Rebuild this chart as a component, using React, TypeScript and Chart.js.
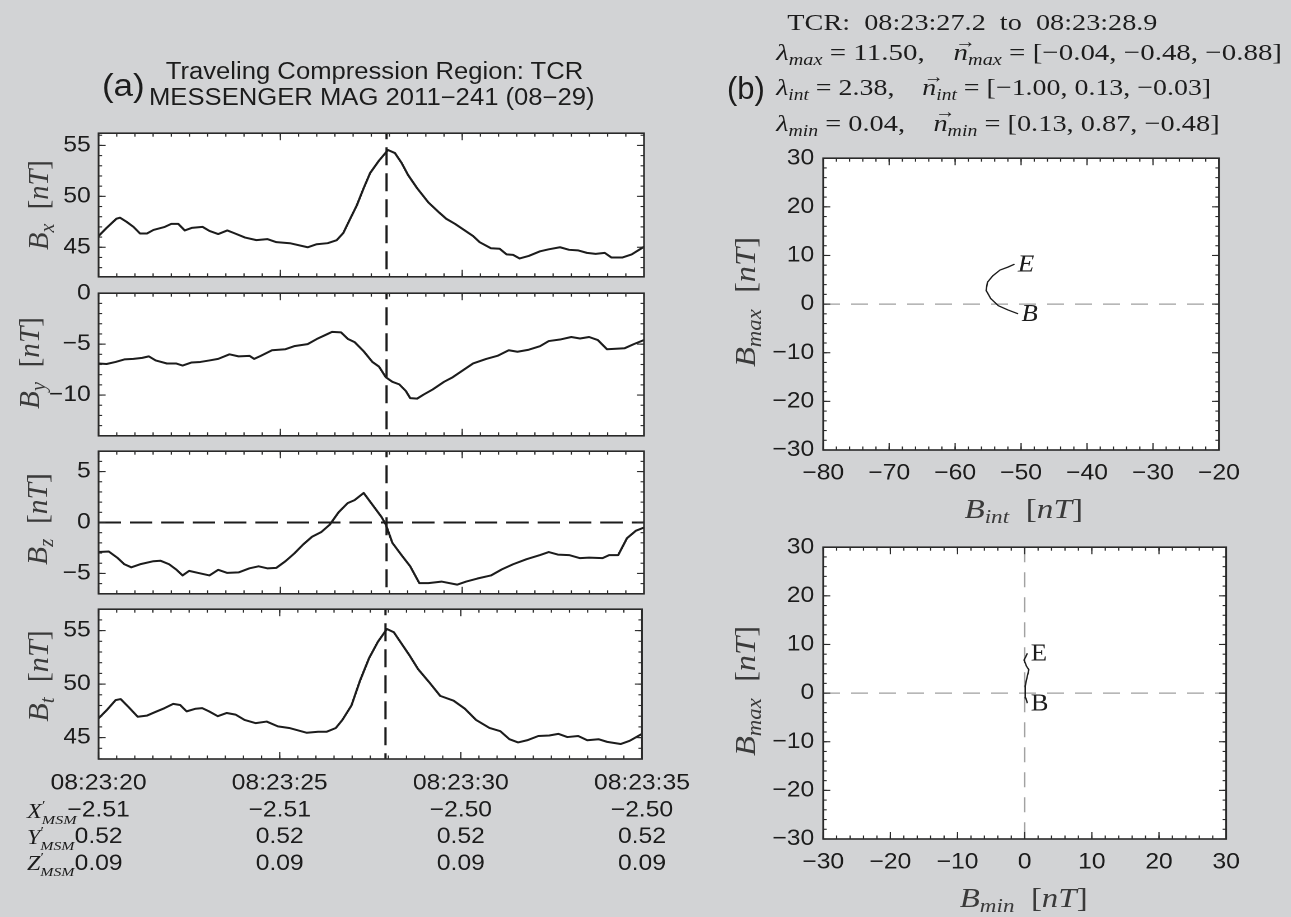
import React, { useEffect, useLayoutEffect, useRef, useState } from 'react';
import { Chart, registerables } from 'chart.js';

Chart.register(...registerables);

// ---------------- data ----------------
const tcrCenterSec = 7.92; // seconds after 08:23:20
const timeTickSec = [0, 5, 10, 15];
const timeTickLabels = ['08:23:20', '08:23:25', '08:23:30', '08:23:35'];
const xMsmValues = ['\u22122.51', '\u22122.51', '\u22122.50', '\u22122.50'];
const yMsmValues = ['0.52', '0.52', '0.52', '0.52'];
const zMsmValues = ['0.09', '0.09', '0.09', '0.09'];

const bxSec = [0, 0.22, 0.49, 0.59, 0.77, 0.96, 1.14, 1.33, 1.51, 1.82, 2.0, 2.19, 2.37, 2.56, 2.86, 3.05, 3.29, 3.54, 3.72, 4.03, 4.34, 4.64, 4.89, 5.26, 5.75, 6.0, 6.3, 6.55, 6.73, 6.92, 7.1, 7.29, 7.47, 7.71, 7.96, 8.15, 8.33, 8.51, 8.76, 9.07, 9.37, 9.56, 9.8, 10.05, 10.3, 10.48, 10.79, 11.03, 11.22, 11.4, 11.58, 11.83, 12.14, 12.38, 12.69, 12.94, 13.18, 13.43, 13.67, 13.92, 14.1, 14.41, 14.66, 15];
const bxNT = [46.1, 46.9, 47.8, 47.9, 47.5, 47.0, 46.35, 46.35, 46.7, 47.0, 47.3, 47.3, 46.65, 46.9, 47.0, 46.6, 46.3, 46.65, 46.4, 45.95, 45.7, 45.8, 45.5, 45.4, 45.0, 45.3, 45.4, 45.7, 46.4, 47.8, 49.1, 50.8, 52.3, 53.5, 54.55, 54.25, 53.3, 52.1, 50.8, 49.4, 48.4, 47.8, 47.3, 46.7, 46.1, 45.5, 44.9, 44.85, 44.3, 44.25, 43.9, 44.15, 44.6, 44.8, 45.0, 44.75, 44.7, 44.45, 44.35, 44.45, 44.0, 44.0, 44.3, 45.05];

const bySec = [0, 0.22, 0.47, 0.71, 0.96, 1.2, 1.38, 1.57, 1.88, 2.13, 2.31, 2.56, 2.8, 3.05, 3.29, 3.6, 3.85, 4.15, 4.28, 4.46, 4.77, 5.14, 5.38, 5.75, 6.0, 6.3, 6.42, 6.67, 6.86, 7.04, 7.29, 7.53, 7.71, 7.9, 8.08, 8.27, 8.45, 8.57, 8.76, 8.94, 9.19, 9.5, 9.74, 10.05, 10.3, 10.66, 10.97, 11.28, 11.52, 11.83, 12.14, 12.38, 12.69, 13.0, 13.24, 13.49, 13.73, 13.98, 14.23, 14.47, 14.72, 15];
const byNT = [-6.9, -6.95, -6.75, -6.5, -6.45, -6.35, -6.2, -6.6, -6.9, -6.9, -7.1, -6.8, -6.75, -6.6, -6.45, -6.0, -6.2, -6.15, -6.45, -6.15, -5.6, -5.5, -5.2, -5.0, -4.5, -4.0, -3.8, -3.85, -4.5, -4.8, -5.7, -6.75, -7.2, -8.25, -8.7, -8.95, -9.6, -10.3, -10.35, -9.95, -9.45, -8.7, -8.25, -7.5, -6.9, -6.45, -6.15, -5.6, -5.75, -5.55, -5.2, -4.7, -4.55, -4.3, -4.45, -4.3, -4.6, -5.5, -5.45, -5.4, -5.0, -4.6];

const bzSec = [0, 0.28, 0.53, 0.71, 0.9, 1.14, 1.51, 1.7, 1.94, 2.13, 2.31, 2.49, 2.74, 3.05, 3.29, 3.54, 3.85, 4.15, 4.4, 4.64, 4.89, 5.14, 5.38, 5.63, 5.87, 6.12, 6.36, 6.6, 6.85, 7.04, 7.29, 7.53, 7.78, 7.9, 8.08, 8.33, 8.57, 8.82, 9.07, 9.43, 9.86, 10.11, 10.42, 10.79, 11.09, 11.4, 11.77, 12.14, 12.38, 12.63, 12.94, 13.24, 13.49, 13.86, 14.04, 14.29, 14.53, 14.78, 15];
const bzNT = [-2.9, -2.85, -3.5, -4.1, -4.4, -4.1, -3.8, -3.75, -4.1, -4.6, -5.2, -4.75, -4.95, -5.2, -4.65, -4.95, -4.9, -4.5, -4.3, -4.5, -4.45, -3.8, -3.05, -2.15, -1.4, -0.95, -0.2, 1.0, 1.9, 2.2, 2.9, 1.75, 0.55, -0.2, -2.0, -3.2, -4.3, -5.95, -5.95, -5.8, -6.1, -5.8, -5.5, -5.2, -4.6, -4.1, -3.6, -3.2, -2.9, -3.15, -3.2, -3.5, -3.45, -3.5, -3.2, -3.2, -1.55, -0.8, -0.5];

const btSec = [0, 0.22, 0.47, 0.61, 0.83, 1.08, 1.33, 1.57, 1.82, 2.06, 2.25, 2.43, 2.68, 2.86, 3.05, 3.29, 3.54, 3.78, 4.03, 4.34, 4.64, 4.95, 5.26, 5.75, 6.06, 6.3, 6.55, 6.73, 6.98, 7.22, 7.47, 7.71, 7.96, 8.15, 8.33, 8.57, 8.82, 9.12, 9.43, 9.8, 10.11, 10.42, 10.79, 11.09, 11.34, 11.58, 11.83, 12.14, 12.44, 12.69, 12.94, 13.24, 13.49, 13.8, 14.04, 14.41, 14.66, 15];
const btNT = [46.8, 47.55, 48.5, 48.6, 47.85, 46.95, 47.05, 47.4, 47.75, 48.15, 48.05, 47.45, 47.7, 47.75, 47.45, 47.0, 47.3, 47.15, 46.65, 46.35, 46.5, 46.05, 45.9, 45.45, 45.55, 45.55, 45.9, 46.65, 48.0, 50.35, 52.45, 53.95, 55.15, 54.85, 53.95, 52.75, 51.4, 50.2, 48.9, 48.45, 47.7, 46.65, 45.9, 45.6, 44.85, 44.55, 44.75, 45.15, 45.2, 45.35, 45.05, 45.15, 44.75, 44.85, 44.6, 44.4, 44.7, 45.35];

const bxTicks = [45, 50, 55];
const byTicks = [-10, -5, 0];
const bzTicks = [-5, 0, 5];
const btTicks = [45, 50, 55];

// hodograms (minimum variance frame)
const hodo1Bint = [-50.45, -52.0, -53.45, -54.6, -55.3, -55.1, -54.3, -53.2, -52.0, -51.0];
const hodo1Bmax = [-2.0, -1.2, -0.33, 1.14, 2.8, 4.5, 5.8, 7.0, 7.6, 8.2];
const hodo2Bmin = [0.4, 0.17, 0.06, 0.1, 0.28, 0.62, 0.28, -0.1, 0.17, 0.4];
const hodo2Bmax = [-2.07, -1.0, 0.0, 1.47, 2.8, 4.8, 5.5, 6.8, 7.5, 8.2];
const hodo1XTicks = [-80, -70, -60, -50, -40, -30, -20];
const hodo2XTicks = [-30, -20, -10, 0, 10, 20, 30];
const hodoYTicks = [-30, -20, -10, 0, 10, 20, 30];

// ---------------- style ----------------
const K = 1.12; // horizontal stretch of the whole figure
const BG = '#d2d3d5';
const INK = '#1c1c1c';
const SANS = '"Liberation Sans", Arial, Helvetica, sans-serif';
const SERIF = '"Liberation Serif", "Times New Roman", "DejaVu Serif", serif';

const fmt = (v: number) => (v < 0 ? '\u2212' + Math.abs(v) : String(v));
const steps = (a: number, b: number, s: number) => {
  const out: number[] = [];
  for (let v = a; v <= b + 1e-9; v += s) out.push(Math.round(v * 1000) / 1000);
  return out;
};
const pts = (xs: number[], ys: number[]) => xs.map((x, i) => ({ x, y: ys[i] }));

const framePlugin = {
  id: 'frame',
  beforeDraw(chart: any) {
    const a = chart.chartArea;
    const c = chart.ctx;
    c.save();
    c.fillStyle = '#ffffff';
    c.fillRect(a.left, a.top, a.right - a.left, a.bottom - a.top);
    c.restore();
  },
  afterDraw(chart: any, _args: any, o: any) {
    const { ctx, chartArea: a, scales } = chart;
    const xs = scales.x;
    const ys = scales.y;
    ctx.save();
    ctx.strokeStyle = '#2a2a2a';
    ctx.lineWidth = 1.1;
    const seg = (x1: number, y1: number, x2: number, y2: number) => {
      ctx.beginPath();
      ctx.moveTo(x1, y1);
      ctx.lineTo(x2, y2);
      ctx.stroke();
    };
    const xt = (vals: number[], len: number) =>
      vals.forEach((v) => {
        const p = xs.getPixelForValue(v);
        seg(p, a.bottom, p, a.bottom - len);
        seg(p, a.top, p, a.top + len);
      });
    const yt = (vals: number[], len: number) =>
      vals.forEach((v) => {
        const p = ys.getPixelForValue(v);
        seg(a.left, p, a.left + len, p);
        seg(a.right, p, a.right - len, p);
      });
    xt(o.xMinor, o.minorLen);
    xt(o.xMajor, o.majorLen);
    yt(o.yMinor, o.minorLen * 0.9);
    yt(o.yMajor, o.majorLen * 0.9);
    ctx.lineWidth = 1.6;
    ctx.strokeRect(a.left, a.top, a.right - a.left, a.bottom - a.top);
    ctx.restore();
  },
};

const endLabelPlugin = {
  id: 'endLabels',
  afterDatasetsDraw(chart: any, _args: any, o: any) {
    if (!o || !o.show) return;
    const data = chart.data.datasets[0].data;
    const first = data[0];
    const last = data[data.length - 1];
    const xs = chart.scales.x;
    const ys = chart.scales.y;
    const ctx = chart.ctx;
    ctx.save();
    ctx.font = o.font;
    ctx.fillStyle = INK;
    ctx.textAlign = 'left';
    ctx.textBaseline = 'middle';
    ctx.fillText(o.startText, xs.getPixelForValue(first.x) + 3, ys.getPixelForValue(first.y) + 1);
    ctx.fillText(o.endText, xs.getPixelForValue(last.x) + 3, ys.getPixelForValue(last.y) + 1);
    ctx.restore();
  },
};

interface Spec {
  left: number; top: number; w: number; h: number;
  padTop: number; padRight: number; padBottom: number;
  yAxisW: number; xAxisH: number; showX: boolean;
  xMin: number; xMax: number; yMin: number; yMax: number;
  xTicks: number[]; yTicks: number[]; xMinor: number[]; yMinor: number[];
  majorLen: number; minorLen: number;
  xLabel: (v: number, i: number) => any;
  xPad: number; yPad: number; lineHeight: number;
  datasets: any[]; endLabels?: any;
}

function makeConfig(s: Spec): any {
  return {
    type: 'line',
    data: { datasets: s.datasets },
    options: {
      animation: false,
      responsive: false,
      devicePixelRatio: 2,
      events: [],
      layout: { autoPadding: false, padding: { left: 0, top: s.padTop, right: s.padRight, bottom: s.padBottom } },
      plugins: {
        legend: { display: false },
        tooltip: { enabled: false },
        frame: { xMajor: s.xTicks, xMinor: s.xMinor, yMajor: s.yTicks, yMinor: s.yMinor, majorLen: s.majorLen, minorLen: s.minorLen },
        endLabels: s.endLabels || { show: false },
      },
      scales: {
        x: {
          type: 'linear', min: s.xMin, max: s.xMax, display: s.showX, position: 'bottom',
          grid: { display: false, drawTicks: false }, border: { display: false },
          afterBuildTicks: (sc: any) => { sc.ticks = s.xTicks.map((v) => ({ value: v })); },
          afterFit: (sc: any) => { sc.height = s.xAxisH; },
          ticks: {
            autoSkip: false, maxRotation: 0, minRotation: 0, padding: s.xPad, color: INK,
            font: { family: SANS, size: 22, lineHeight: s.lineHeight },
            callback: (v: number, i: number) => s.xLabel(v, i),
          },
        },
        y: {
          type: 'linear', min: s.yMin, max: s.yMax,
          grid: { display: false, drawTicks: false }, border: { display: false },
          afterBuildTicks: (sc: any) => { sc.ticks = s.yTicks.map((v) => ({ value: v })); },
          afterFit: (sc: any) => { sc.width = s.yAxisW; },
          ticks: { padding: s.yPad, color: INK, font: { family: SANS, size: 22 }, callback: (v: number) => fmt(v) },
        },
      },
    },
    plugins: [framePlugin, endLabelPlugin],
  };
}

function ChartBox({ spec }: { spec: Spec }) {
  const ref = useRef<HTMLCanvasElement>(null);
  useEffect(() => {
    const chart = new Chart(ref.current as HTMLCanvasElement, makeConfig(spec));
    return () => chart.destroy();
  }, []);
  return (
    <canvas
      ref={ref}
      width={spec.w}
      height={spec.h}
      style={{ position: 'absolute', left: spec.left, top: spec.top, width: spec.w, height: spec.h }}
    />
  );
}

const lineDs = (data: any[], width = 2, dash: number[] = [], color = INK, dashOffset = 0) => ({
  data, borderColor: color, borderWidth: width, borderDash: dash, borderDashOffset: dashOffset,
  pointRadius: 0, fill: false, tension: 0, borderJoinStyle: 'round',
});

// left time-series panels, plot rectangle in unstretched px
const LP_LEFT = 88;
const LP_RIGHT = 575;

function leftPanel(top: number, bottom: number, yMin: number, yMax: number, yTicks: number[], sec: number[], vals: number[], last: boolean, zeroLine: boolean): Spec {
  const yAxisW = 62, padR = 52, padT = 14;
  const xAxisH = last ? 120 : 0;
  const padB = last ? 4 : 14;
  const datasets: any[] = [
    lineDs(pts(sec, vals), 2),
    lineDs([{ x: tcrCenterSec, y: yMax }, { x: tcrCenterSec, y: yMin }], 2, [18, 8], INK, 12),
  ];
  if (zeroLine) datasets.push(lineDs([{ x: 0, y: 0 }, { x: 15, y: 0 }], 2, [20, 8]));
  return {
    left: LP_LEFT - yAxisW, top: top - padT, w: yAxisW + (LP_RIGHT - LP_LEFT) + padR,
    h: Math.round(bottom - top) + padT + padB + xAxisH,
    padTop: padT, padRight: padR, padBottom: padB, yAxisW, xAxisH, showX: last,
    xMin: 0, xMax: 15, yMin, yMax, xTicks: timeTickSec, yTicks,
    xMinor: steps(0, 15, 0.5), yMinor: steps(Math.ceil(yMin), Math.floor(yMax), 1),
    majorLen: 7, minorLen: 3.5,
    xLabel: (_v, i) => [timeTickLabels[i], xMsmValues[i], yMsmValues[i], zMsmValues[i]],
    xPad: 11, yPad: 7, lineHeight: 1.22, datasets,
  };
}

const HP_LEFT = 735;
const HP_RIGHT = 1095;

function hodoPanel(top: number, xMin: number, xMax: number, xTicks: number[], xs: number[], ys: number[], vertZero: boolean, italic: boolean): Spec {
  const yAxisW = 56, padR = 22, padT = 14, padB = 4, xAxisH = 42;
  const gray = '#a0a0a0';
  const datasets: any[] = [
    lineDs(pts(xs, ys), 1.3),
    lineDs([{ x: xMin, y: 0 }, { x: xMax, y: 0 }], 1.3, [15, 10], gray),
  ];
  if (vertZero) datasets.push(lineDs([{ x: 0, y: 30 }, { x: 0, y: -30 }], 1.3, [15, 10], gray));
  return {
    left: HP_LEFT - yAxisW, top: top - padT, w: yAxisW + (HP_RIGHT - HP_LEFT) + padR, h: 299 + padT + padB + xAxisH,
    padTop: padT, padRight: padR, padBottom: padB, yAxisW, xAxisH, showX: true,
    xMin, xMax, yMin: -30, yMax: 30, xTicks, yTicks: hodoYTicks,
    xMinor: steps(xMin, xMax, 2), yMinor: steps(-30, 30, 2), majorLen: 7, minorLen: 3.5,
    xLabel: (v) => fmt(v), xPad: 10, yPad: 8, lineHeight: 1.2, datasets,
    endLabels: { show: true, startText: 'B', endText: 'E', font: `${italic ? 'italic ' : ''}24px ${SERIF}` },
  };
}

const specs: Spec[] = [
  leftPanel(127, 283, 42.1, 56.2, bxTicks, bxSec, bxNT, false, false),
  leftPanel(287, 442, -14, 0, byTicks, bySec, byNT, false, false),
  leftPanel(445, 600, -7, 7, bzTicks, bzSec, bzNT, false, true),
  leftPanel(603, 759, 43, 57, btTicks, btSec, btNT, true, false),
  hodoPanel(151, -80, -20, hodo1XTicks, hodo1Bint, hodo1Bmax, false, true),
  hodoPanel(540, -30, 30, hodo2XTicks, hodo2Bmin, hodo2Bmax, true, false),
];

// ---------------- text ----------------
const SUB: React.CSSProperties = { fontSize: '0.7em', verticalAlign: '-0.28em', lineHeight: 0 };

function Label(props: any) {
  const { x, y, size, family = SERIF, fit, anchor = 'baseline', rotate = 0, color = INK, children } = props;
  const ref = useRef<HTMLDivElement>(null);
  const [s, setS] = useState(1);
  useLayoutEffect(() => {
    const measure = () => {
      const el = ref.current;
      if (!el || !fit) return;
      const n = el.offsetWidth;
      if (n > 0) setS(fit / n);
    };
    measure();
    const f = (document as any).fonts;
    if (f && f.ready) f.ready.then(measure);
  }, [fit]);
  const asc = family === SANS ? 0.8465 : 0.8375;
  const base: React.CSSProperties = {
    position: 'absolute', whiteSpace: 'pre', fontFamily: family, fontSize: size, lineHeight: 1,
    color, width: 'max-content',
  };
  const style: React.CSSProperties =
    anchor === 'baseline'
      ? { ...base, left: x, top: y - asc * size, transform: `scaleX(${s})`, transformOrigin: '0 0' }
      : { ...base, left: x, top: y, transform: `translate(-50%, -50%) rotate(${rotate}deg) scaleX(${s})`, transformOrigin: '50% 50%' };
  return (
    <div ref={ref} style={style}>
      {children}
    </div>
  );
}

const Vec = ({ c }: { c: string }) => (
  <span style={{ position: 'relative', display: 'inline-block' }}>
    <i>{c}</i>
    <span style={{ position: 'absolute', left: '0.06em', top: '-0.42em', fontSize: '0.72em', fontStyle: 'normal' }}>{'\u2192'}</span>
  </span>
);

const BLabel = ({ sub }: { sub: string }) => (
  <>
    <i>B</i>
    <span style={SUB}><i>{sub}</i></span>
    {'  ['}
    <i>nT</i>
    {']'}
  </>
);

const Msm = ({ c }: { c: string }) => (
  <>
    <i>{c}</i>
    <span style={{ position: 'relative', fontSize: '0.66em' }}>
      <span style={{ position: 'absolute', left: '0.02em', top: '-0.62em', fontStyle: 'normal' }}>{'\u2032'}</span>
      <span style={{ position: 'relative', top: '0.45em' }}><i>MSM</i></span>
    </span>
  </>
);

export default function App() {
  const u = (x: number) => x / K;
  return (
    <div style={{ position: 'absolute', left: 0, top: 0, width: 1291, height: 917, background: BG, overflow: 'hidden' }}>
      <div style={{ position: 'absolute', left: 0, top: 0, width: 1291 / K, height: 917, transform: `scaleX(${K})`, transformOrigin: '0 0' }}>
        {specs.map((s, i) => (
          <ChartBox key={i} spec={s} />
        ))}

        {/* panel (a) titles */}
        <Label x={u(102)} y={96.5} size={31} family={SANS} fit={u(43)}>(a)</Label>
        <Label x={u(166)} y={79.3} size={23} family={SANS} fit={u(418)}>Traveling Compression Region: TCR</Label>
        <Label x={u(149)} y={105.8} size={23} family={SANS} fit={u(446)}>{'MESSENGER MAG 2011\u2212241 (08\u221229)'}</Label>

        {/* panel (b) titles */}
        <Label x={u(726.6)} y={99.5} size={31} family={SANS} fit={u(38)}>(b)</Label>
        <Label x={u(787.5)} y={30} size={24} fit={u(370.5)}>{'TCR:  08:23:27.2  to  08:23:28.9'}</Label>
        <Label x={u(776)} y={60} size={24} fit={u(505.7)}>
          <i>λ</i><span style={SUB}><i>max</i></span>{' = 11.50,    '}<Vec c="n" /><span style={SUB}><i>max</i></span>{' = [\u22120.04, \u22120.48, \u22120.88]'}
        </Label>
        <Label x={u(776)} y={95} size={24} fit={u(435)}>
          <i>λ</i><span style={SUB}><i>int</i></span>{' = 2.38,    '}<Vec c="n" /><span style={SUB}><i>int</i></span>{' = [\u22121.00, 0.13, \u22120.03]'}
        </Label>
        <Label x={u(776)} y={130.7} size={24} fit={u(443)}>
          <i>λ</i><span style={SUB}><i>min</i></span>{' = 0.04,    '}<Vec c="n" /><span style={SUB}><i>min</i></span>{' = [0.13, 0.87, \u22120.48]'}
        </Label>

        {/* left y-axis titles */}
        <Label x={u(39)} y={205} size={26} anchor="center" rotate={-90} fit={90} color="#3a3a3a"><BLabel sub="x" /></Label>
        <Label x={u(30)} y={362.5} size={26} anchor="center" rotate={-90} fit={92} color="#3a3a3a"><BLabel sub="y" /></Label>
        <Label x={u(38.4)} y={519} size={26} anchor="center" rotate={-90} fit={92} color="#3a3a3a"><BLabel sub="z" /></Label>
        <Label x={u(39)} y={676} size={26} anchor="center" rotate={-90} fit={92} color="#3a3a3a"><BLabel sub="t" /></Label>

        {/* MSM coordinate row labels */}
        <Label x={u(27)} y={818} size={20} fit={u(50)}><Msm c="X" /></Label>
        <Label x={u(27)} y={843.5} size={20} fit={u(48)}><Msm c="Y" /></Label>
        <Label x={u(27)} y={869.5} size={20} fit={u(48)}><Msm c="Z" /></Label>

        {/* hodogram axis titles */}
        <Label x={u(745.6)} y={302} size={27} anchor="center" rotate={-90} fit={130} color="#3a3a3a"><BLabel sub="max" /></Label>
        <Label x={u(1023.5)} y={509} size={27} anchor="center" fit={u(118)} color="#3a3a3a"><BLabel sub="int" /></Label>
        <Label x={u(745.6)} y={690.8} size={27} anchor="center" rotate={-90} fit={130} color="#3a3a3a"><BLabel sub="max" /></Label>
        <Label x={u(1024)} y={897.5} size={27} anchor="center" fit={u(128)} color="#3a3a3a"><BLabel sub="min" /></Label>
      </div>
    </div>
  );
}
